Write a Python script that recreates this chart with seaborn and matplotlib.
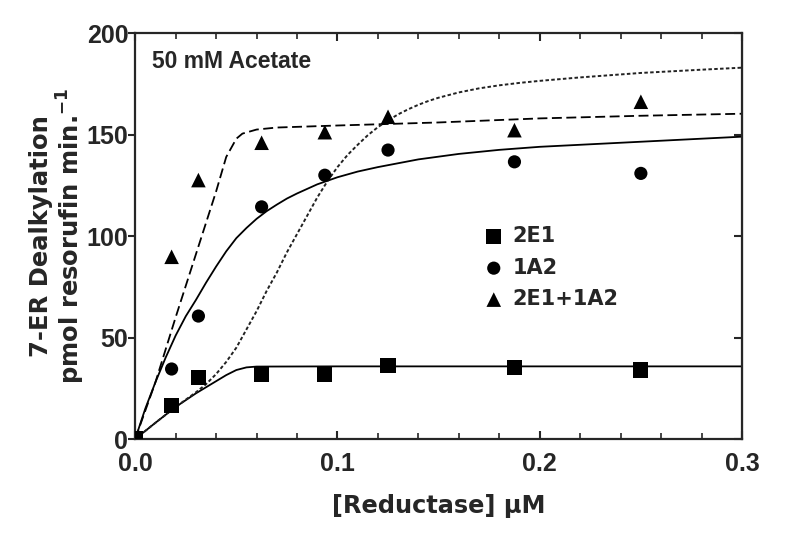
import numpy as np
import pandas as pd
import matplotlib
matplotlib.use("Agg")
import matplotlib.pyplot as plt
import seaborn as sns
from matplotlib.ticker import MultipleLocator, FormatStrFormatter

# measured points
reductase = [0, 0.018, 0.03125, 0.0625, 0.09375, 0.125, 0.1875, 0.25]
act_2e1 = [0, 16.7, 30.4, 31.9, 32.0, 36.3, 35.3, 34.0]
act_1a2 = [0, 34.5, 60.6, 114.4, 130.0, 142.4, 136.6, 130.9]
act_mix = [0, 89.8, 127.6, 146.0, 151.2, 158.8, 152.2, 166.2]

# fitted curves
fit_2e1_x = [0, 0.01, 0.02, 0.03, 0.04, 0.045, 0.05, 0.055, 0.06, 0.1, 0.2, 0.3]
fit_2e1_y = [0, 8.0, 15.8, 22.5, 28.5, 31.5, 34.0, 35.3, 35.7, 35.8, 35.8, 35.8]

fit_1a2_x = [0, 0.005, 0.01, 0.015, 0.02, 0.025, 0.03, 0.035, 0.04, 0.045, 0.05, 0.055,
             0.06, 0.065, 0.07, 0.075, 0.08, 0.09, 0.1, 0.11, 0.12, 0.14, 0.16, 0.18,
             0.2, 0.25, 0.3]
fit_1a2_y = [0, 15, 28, 40, 51, 60.5, 68.5, 77, 85, 92.5, 99, 104,
             108.5, 112.3, 115.5, 118.5, 121, 125.5, 129, 131.8, 134, 137.8, 140.5, 142.5,
             144, 146.5, 149]

fit_mix_x = [0, 0.01, 0.02, 0.03, 0.04, 0.045, 0.05, 0.053, 0.06, 0.07, 0.1, 0.15, 0.2, 0.25, 0.3]
fit_mix_y = [0, 28, 60, 91, 122, 139, 148, 150.5, 152.5, 153.5, 154.5, 156, 158, 159.3, 160.3]

fit_sum_x = [0, 0.01, 0.02, 0.03, 0.035, 0.04, 0.045, 0.05, 0.055, 0.06, 0.065, 0.07, 0.075,
             0.08, 0.085, 0.09, 0.095, 0.1, 0.105, 0.11, 0.115, 0.12, 0.125, 0.13, 0.135,
             0.14, 0.145, 0.15, 0.16, 0.17, 0.18, 0.19, 0.2, 0.22, 0.25, 0.28, 0.3]
fit_sum_y = [0, 8, 15.8, 23, 27, 32, 38, 45, 54, 63, 73, 82, 92,
             101, 110, 119, 127, 134, 140, 145, 149.7, 153.7, 157, 160, 162.5,
             164.7, 166.6, 168.2, 170.8, 172.8, 174.3, 175.5, 176.5, 178.2, 180.4, 182, 183]

sns.set_style("ticks")
plt.rcParams['font.family'] = ['Liberation Sans', 'DejaVu Sans']
plt.rcParams['font.weight'] = 'bold'
plt.rcParams['mathtext.fontset'] = 'custom'
plt.rcParams['mathtext.rm'] = 'DejaVu Sans:bold'
plt.rcParams['mathtext.bf'] = 'DejaVu Sans:bold'

fig = plt.figure(figsize=(8, 5.35), dpi=100)
ax = fig.add_axes([0.169, 0.1794, 0.7585, 0.7586])

sns.lineplot(x=fit_2e1_x, y=fit_2e1_y, ax=ax, color='black', lw=1.3, sort=False, estimator=None)
sns.lineplot(x=fit_1a2_x, y=fit_1a2_y, ax=ax, color='black', lw=1.3, sort=False, estimator=None)
sns.lineplot(x=fit_mix_x, y=fit_mix_y, ax=ax, color='black', lw=1.3, sort=False, estimator=None)
ax.lines[-1].set_dashes([5.5, 2.5])
sns.lineplot(x=fit_sum_x, y=fit_sum_y, ax=ax, color='#222222', lw=1.4, sort=False, estimator=None)
ax.lines[-1].set_dashes([1.8, 1.2])

sns.scatterplot(x=reductase, y=act_2e1, ax=ax, marker='s', s=120, color='black',
                edgecolor='none', label='2E1', zorder=5)
sns.scatterplot(x=reductase, y=act_1a2, ax=ax, marker='o', s=90, color='black',
                edgecolor='none', label='1A2', zorder=4)
sns.scatterplot(x=reductase, y=act_mix, ax=ax, marker='^', s=110, color='black',
                edgecolor='none', label='2E1+1A2', zorder=4)

ax.set_xlim(0, 0.3)
ax.set_ylim(0, 200)
ax.xaxis.set_major_locator(MultipleLocator(0.1))
ax.xaxis.set_minor_locator(MultipleLocator(0.02))
ax.yaxis.set_major_locator(MultipleLocator(50))
ax.xaxis.set_major_formatter(FormatStrFormatter('%.1f'))

ax.tick_params(axis='x', which='major', direction='in', length=6, width=1.5,
               top=True, labelsize=18, pad=9.5)
ax.tick_params(axis='x', which='minor', direction='in', length=4, width=1.2, top=True)
ax.tick_params(axis='y', which='major', direction='out', length=5, width=1.5,
               labelsize=18, pad=0)
for sp in ax.spines.values():
    sp.set_linewidth(1.6)

# right-side inward ticks
ax_r = ax.secondary_yaxis('right')
ax_r.yaxis.set_major_locator(MultipleLocator(50))
ax_r.tick_params(direction='in', length=6, width=1.5, labelright=False)

ax.set_xlabel('[Reductase] \u03bcM', fontsize=17.3, fontweight='bold',
              family='DejaVu Sans', labelpad=13)
ax.set_ylabel('7-ER Dealkylation\npmol resorufin min.$^{-1}$', fontsize=17.5,
              fontweight='bold', family='DejaVu Sans', labelpad=0, linespacing=1.05)

ax.text(0.028, 0.929, '50 mM Acetate', transform=ax.transAxes, fontsize=16.5,
        fontweight='bold', va='center', ha='left')

leg = ax.legend(loc='upper left', bbox_to_anchor=(0.56, 0.545), frameon=False,
                prop={'family': 'DejaVu Sans', 'weight': 'bold', 'size': 15},
                handletextpad=0.4, labelspacing=0.55, borderaxespad=0,
                handlelength=1.0)

fig.savefig('out.png', dpi=100)
